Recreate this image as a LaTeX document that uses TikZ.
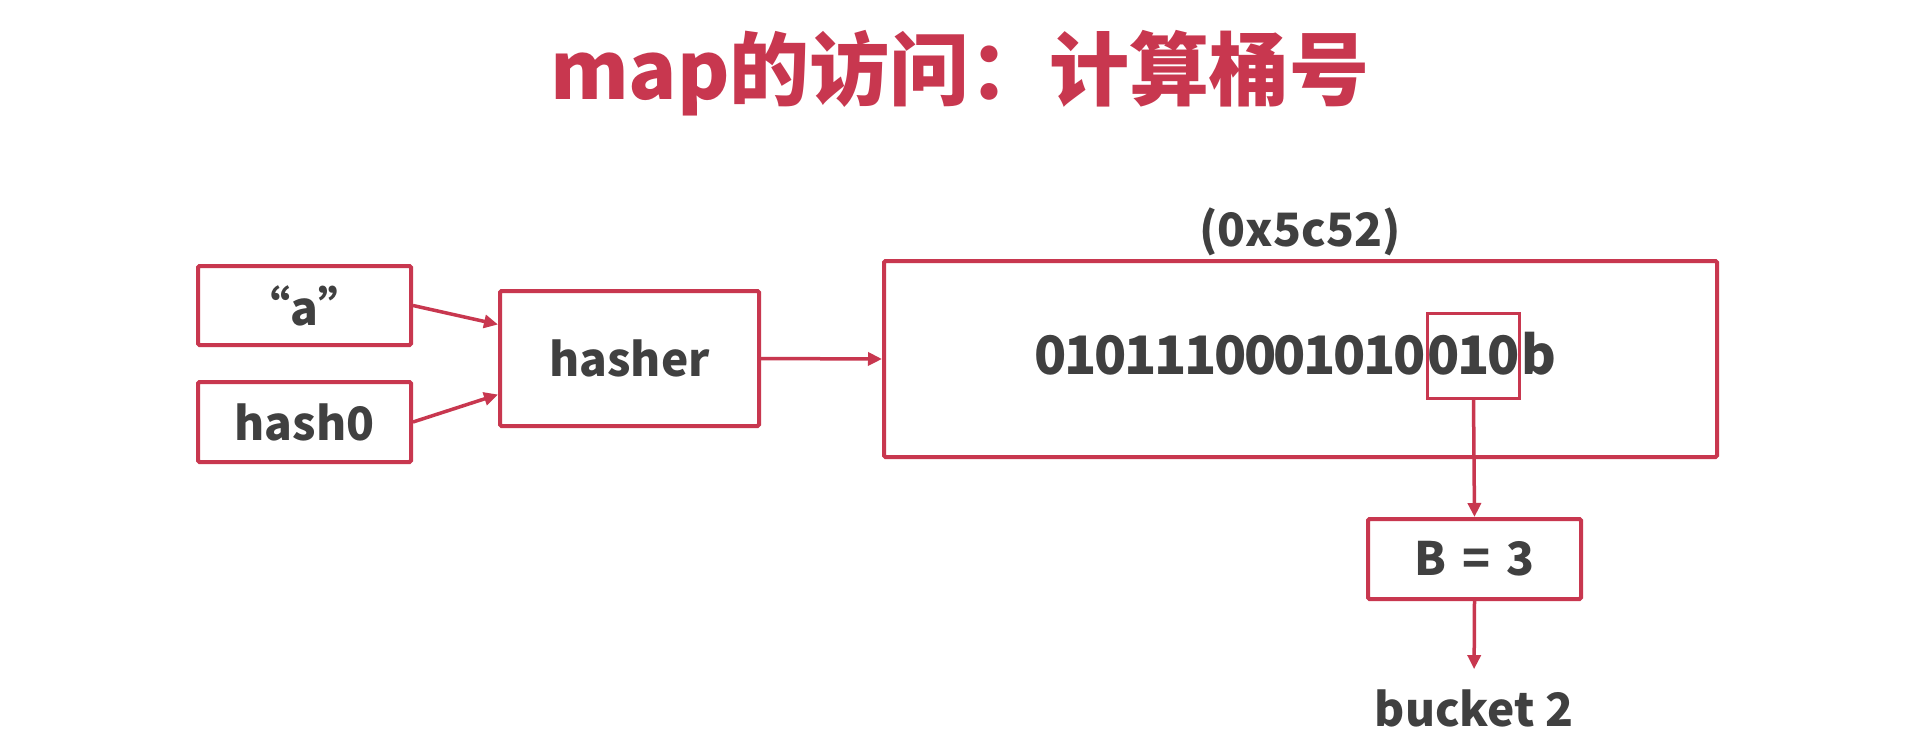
\documentclass[tikz,border=0pt]{standalone}
\usepackage{fontspec}
\setmainfont{Noto Sans CJK SC}
\newfontfamily\cjk{Noto Sans CJK SC}
\newfontfamily\cjknarrow{Noto Sans CJK SC}[LetterSpace=-4.5]
\usetikzlibrary{arrows.meta}
\definecolor{rd}{HTML}{C8374F}
\definecolor{tx}{HTML}{404040}
\tikzset{
  box/.style={draw=rd, line width=4pt, rounded corners=1.5pt, inner sep=0pt, font=\cjk\bfseries\fontsize{46}{50}\selectfont, text=tx},
  conn/.style={draw=rd, line width=3.5pt, -{Triangle[length=14pt,width=13pt]}},
  lbl/.style={inner sep=0pt, font=\cjk\bfseries\fontsize{46}{50}\selectfont, text=tx},
  bits/.style={inner sep=0pt, font=\cjknarrow\bfseries\fontsize{53}{56}\selectfont, text=tx}
}
\begin{document}
\begin{tikzpicture}[x=1pt,y=-1pt]
\useasboundingbox[fill=white] (0,0) rectangle (1920,742);
\node[inner sep=0pt, text=rd, font=\cjk\bfseries\fontsize{80}{86}\selectfont] (title) at (960,73) {map的访问：计算桶号};
\node[box, minimum width=213pt, minimum height=79pt] (a) at (304.5,305.5) {“a”};
\node[box, minimum width=213pt, minimum height=80pt] (h0) at (304.5,422) {hash0};
\node[box, minimum width=259pt, minimum height=135pt] (hasher) at (629.5,358.5) {hasher};
\node[box, minimum width=833pt, minimum height=196pt] (big) at (1300.5,359) {};
\node[lbl] (hex) at (1300,232) {(0x5c52)};
\node[bits, draw=rd, line width=3pt, minimum width=89pt, minimum height=85pt, inner xsep=0pt] (sel) at (1473.5,355.5) {010};
\node[bits, anchor=base east] (pre) at (sel.base west) {0101110001010};
\node[bits, anchor=base west] (suf) at (sel.base east) {b};
\node[box, minimum width=213pt, minimum height=80pt] (B) at (1474.5,559) {B\hspace{0.35em}=\hspace{0.35em}3};
\node[lbl] (bucket) at (1474,708) {bucket 2};
\draw[conn] (a.east) -- ([yshift=34pt]hasher.west);
\draw[conn] (h0.east) -- ([yshift=-36pt]hasher.west);
\draw[conn] (hasher.east) -- (big.west);
\draw[conn] (sel.south) -- (B.north);
\draw[conn, shorten >=20pt] (B.south) -- (bucket.north);
\end{tikzpicture}
\end{document}
